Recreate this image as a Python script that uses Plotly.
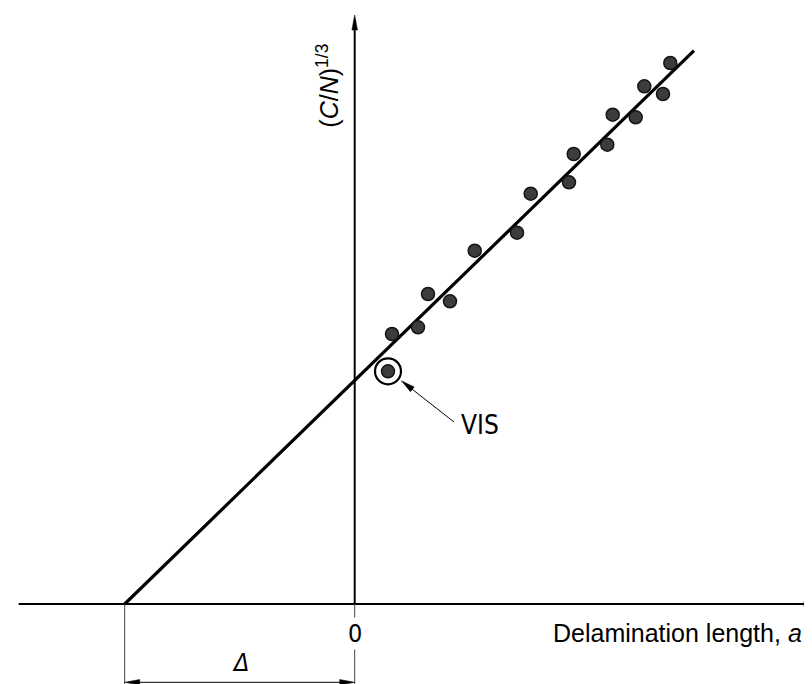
import numpy as np
import plotly.graph_objects as go

# Datos (unidades arbitrarias, 1 unidad = 10 px)
a_puntos = [31.56, 28.96, 30.83, 25.80, 28.10, 25.26, 21.90, 21.43, 17.60,
            16.23, 12.00, 7.33, 9.53, 6.33, 3.73]
cn_puntos = [54.10, 51.77, 51.00, 48.93, 48.67, 45.93, 45.00, 42.17, 41.03,
             37.13, 35.33, 31.00, 30.27, 27.67, 27.00]

# Punto VIS
a_vis = [3.33]
cn_vis = [23.27]

# Recta de ajuste: corta el eje x en -delta
delta = 23.0
ajuste_a = [-delta, 33.93]
ajuste_cn = [0.0, 55.33]

# Rangos de los ejes (el origen esta en la interseccion de los ejes)
rango_x = [-34.67, 46.53]
rango_y = [-8.8, 59.6]

FUENTE = "Liberation Sans, Arial, sans-serif"
FUENTE_ISO = "DejaVu Sans Condensed, Liberation Sans Narrow, Liberation Sans, sans-serif"


def punta(tip, cola, largo=1.5, medio=0.3):
    """Path SVG de una punta de flecha rellena (en coordenadas de datos)."""
    tip = np.array(tip, dtype=float)
    u = tip - np.array(cola, dtype=float)
    u = u / np.linalg.norm(u)
    n = np.array([-u[1], u[0]])
    base = tip - u * largo
    p1 = base + n * medio
    p2 = base - n * medio
    return f"M{tip[0]},{tip[1]} L{p1[0]},{p1[1]} L{p2[0]},{p2[1]} Z"


fig = go.Figure()

# Recta de ajuste
fig.add_trace(go.Scatter(
    x=ajuste_a, y=ajuste_cn, mode="lines",
    line=dict(color="black", width=3.2), hoverinfo="skip"
))

# Puntos medidos
fig.add_trace(go.Scatter(
    x=a_puntos + a_vis, y=cn_puntos + cn_vis, mode="markers",
    marker=dict(size=13, color="#3c3c3c", line=dict(color="#151515", width=1.5))
))

# Circulo alrededor del punto VIS
fig.add_trace(go.Scatter(
    x=a_vis, y=cn_vis, mode="markers",
    marker=dict(symbol="circle-open", size=26, color="black", line=dict(width=2.2))
))

shapes = []
# Eje x y eje y
x_ini_eje = -33.6
y_tope_eje = 58.9
shapes.append(dict(type="line", x0=x_ini_eje, y0=0, x1=rango_x[1], y1=0,
                   line=dict(color="black", width=2)))
shapes.append(dict(type="line", x0=0, y0=0, x1=0, y1=y_tope_eje - 0.5,
                   line=dict(color="black", width=2)))

# Lineas de referencia de la cota
for xv in [-delta, 0]:
    shapes.append(dict(type="line", x0=xv, y0=0, x1=xv, y1=rango_y[0],
                       line=dict(color="#444444", width=1)))

# Linea de cota
y_cota = -7.83
shapes.append(dict(type="line", x0=-delta + 1, y0=y_cota, x1=-1, y1=y_cota,
                   line=dict(color="black", width=1)))

# Flecha hacia VIS
vis_cola = (9.93, 18.2)
vis_tip = (4.66, 22.33)
shapes.append(dict(type="line", x0=vis_cola[0], y0=vis_cola[1],
                   x1=vis_tip[0] + 0.6, y1=vis_tip[1] - 0.47,
                   line=dict(color="black", width=1)))

puntas = [
    punta((rango_x[1], 0), (0, 0), 1.6, 0.3),
    punta((0, y_tope_eje), (0, 0), 1.5, 0.28),
    punta((-delta, y_cota), (0, y_cota), 1.5, 0.28),
    punta((0, y_cota), (-delta, y_cota), 1.5, 0.28),
    punta(vis_tip, vis_cola, 1.4, 0.3),
]
for p in puntas:
    shapes.append(dict(type="path", path=p, fillcolor="black",
                       line=dict(color="black", width=0.5)))

annotations = [
    dict(x=0, y=-2.9, text="0", showarrow=False, bgcolor="white",
         font=dict(family=FUENTE_ISO, size=25, color="black")),
    dict(x=19.6, y=-2.9, text="Delamination length, <i>a</i>", showarrow=False,
         xanchor="left", font=dict(family=FUENTE, size=25, color="black")),
    dict(x=-11.47, y=-5.8, text="<i>Δ</i>", showarrow=False,
         font=dict(family=FUENTE_ISO, size=25, color="black")),
    dict(x=12.53, y=17.9, text="VIS", showarrow=False,
         font=dict(family=FUENTE_ISO, size=26, color="black")),
    dict(x=-2.7, y=51.8, text="(<i>C</i>/<i>N</i>)<sup>1/3</sup>",
         showarrow=False, textangle=-90,
         font=dict(family=FUENTE, size=25, color="black")),
]

fig.update_layout(
    width=812, height=684,
    margin=dict(l=0, r=0, t=0, b=0),
    plot_bgcolor="white", paper_bgcolor="white",
    showlegend=False,
    xaxis=dict(range=rango_x, visible=False, fixedrange=True),
    yaxis=dict(range=rango_y, visible=False, fixedrange=True),
    shapes=shapes,
    annotations=annotations,
)

fig.write_html("out.html", config={"displayModeBar": False})
